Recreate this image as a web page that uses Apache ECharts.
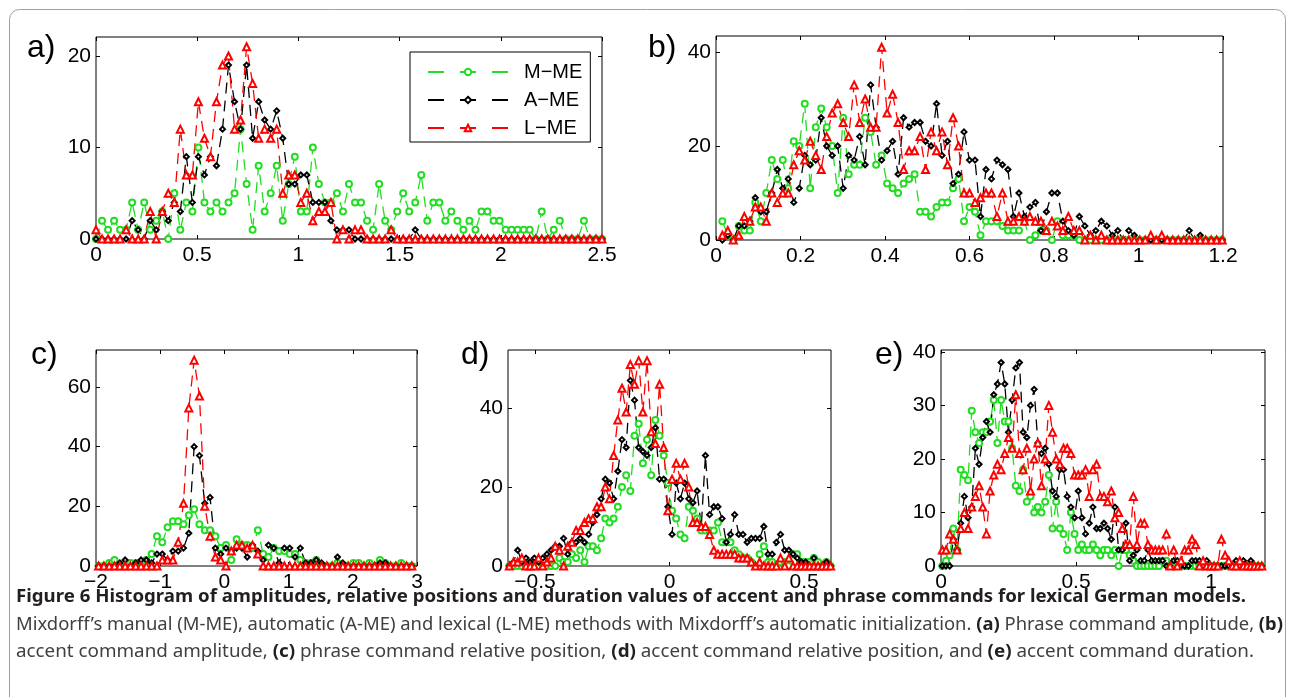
<!DOCTYPE html>
<html>
<head>
<meta charset="utf-8">
<script src="https://cdn.jsdelivr.net/npm/echarts@6/dist/echarts.min.js"></script>
<style>
html,body{margin:0;padding:0;background:#fff;}
#main{width:1293px;height:697px;}
</style>
</head>
<body>
<div id="main"></div>
<script>
// 各子图的直方图计数 (bin centres = start + i*step)
// a) phrase command amplitude
var aStart = 0, aStep = 0.02976;
var aMME = [0,2,1,2,1,1,4,1,4,1, 2,3,0,5,1,4,3,10,4,3, 4,3,4,5,12,6,1,8,3,5, 8,2,6,9,3,3,10,6,4,4,
            5,3,6,4,4,2,1,6,2,1, 3,5,3,4,7,2,4,4,2,3, 2,1,2,1,3,3,2,2,1,1, 1,1,1,0,3,0,1,2,0,0, 0,2,0,0,0];
var aAME = [0,0,0,0,0,0,2,1,0,2, 1,3,2,4,3,9,4,9,7,9, 8,12,19,15,12,19,11,15,13,12, 14,11,6,6,7,7,4,4,4,2,
            1,1,1,0,0,0,0,0,0,0, 0,0,0,1,0,0,0,0,0,0, 0,0,0,0,0,0,0,0,0,0, 0,0,0,0,0,0,0,0,0,0, 0,0,0,0,0];
var aLME = [1,0,0,0,0,1,0,0,0,3, 0,3,5,4,12,7,7,15,11,9, 15,19,20,12,13,21,17,11,12,11, 12,5,7,7,4,5,2,3,3,4,
            0,1,0,1,1,0,0,0,0,1, 0,0,0,0,0,0,0,0,0,0, 0,0,0,0,0,0,0,0,0,0, 0,0,0,0,0,0,0,0,0,0, 0,0,0,0,0];
var aXTicks = [0, 0.5, 1, 1.5, 2, 2.5];
var aYTicks = [0, 10, 20];

// b) accent command amplitude
var bStart = 0.015, bStep = 0.013;
var bMME = [4,1,0,3,2,2,8,4,10,17, 13,17,11,21,20,29,11,24,28,24, 20,10,26,14,16,16,26,23,16,18, 12,11,10,12,13,14,6,6,5,7,
            8,8,11,13,4,7,6,1,4,4, 4,3,2,2,2,4,0,1,2,2, 0,4,1,1,1,0,0,0,0,0, 0,0,0,0,0,0,0,0,0,0, 0,0,0,0,0,0,0,0,0,0, 0,0];
var bAME = [0,1,0,3,3,4,9,6,6,10, 15,11,13,8,11,18,16,17,26,20, 18,20,11,18,17,22,16,33,24,17, 19,21,14,26,24,25,25,21,20,29,
            18,21,12,14,23,17,17,5,15,13, 17,16,15,5,10,5,7,8,2,6, 10,10,4,2,1,5,3,1,2,4, 3,1,2,0,2,1,0,0,0,0, 0,0,0,0,0,2,0,1,0,0, 0,0];
var bLME = [1,2,0,1,5,4,7,7,4,10, 8,10,10,16,19,17,21,18,15,22, 27,29,25,22,33,25,30,24,24,41, 27,31,25,15,19,19,22,15,23,19,
            23,16,26,20,10,10,8,9,10,10, 5,10,4,4,5,4,5,4,4,2, 4,3,2,5,2,2,0,1,0,1, 0,0,0,0,0,0,0,0,1,0, 1,0,0,0,0,0,0,0,0,0, 0,0];
var bXTicks = [0, 0.2, 0.4, 0.6, 0.8, 1, 1.2];
var bYTicks = [0, 20, 40];

// c) phrase command relative position
var cStart = -1.96, cStep = 0.0827;
var cMME = [0,0,1,2,0,1,1,1,0,2, 4,10,8,13,15,15,14,17,19,14, 12,12,10,6,7,2,9,7,7,6, 12,4,3,6,5,5,4,4,2,1,
            1,2,0,0,0,1,0,0,1,1, 0,1,0,2,1,0,0,1,0,0, 1];
var cAME = [0,0,0,0,1,2,0,1,2,2, 1,4,4,2,5,5,6,11,40,37, 21,23,6,4,6,5,6,6,3,7, 5,2,7,6,1,6,6,3,6,1,
            1,2,1,0,0,3,1,0,0,0, 0,0,0,1,1,0,0,0,0,0, 0];
var cLME = [0,0,0,0,0,0,0,0,0,0, 0,0,2,2,2,8,21,53,69,57, 20,10,3,2,0,5,7,7,6,7, 4,0,0,0,0,0,0,0,0,0,
            0,0,0,0,0,0,0,0,0,0, 0,0,0,0,0,0,0,0,0,0, 0];
var cXTicks = [-2, -1, 0, 1, 2, 3];
var cYTicks = [0, 20, 40, 60];

// d) accent command relative position
var dStart = -0.595, dStep = 0.0155;
var dMME = [0,0,0,0,0,0,1,0,0,0, 0,0,2,1,1,3,2,4,1,5, 5,4,7,12,11,12,15,20,23,19, 33,36,26,32,23,37,33,28,21,14,
            12,8,7,15,14,12,9,9,9,9, 11,6,6,6,4,3,2,2,1,0, 3,5,1,1,0,1,1,0,3,3, 1,1,1,2,1,0,1,0];
var dAME = [0,1,4,1,2,1,2,1,2,3, 4,5,5,7,3,6,6,7,6,8, 11,13,17,22,21,17,24,32,30,47, 42,30,29,28,30,35,22,22,15,8,
            21,17,21,17,16,19,10,28,13,15, 15,12,6,8,13,8,8,6,7,7, 7,10,3,3,6,8,4,4,3,2, 1,1,0,2,0,0,1,0];
var dLME = [0,1,1,2,0,0,0,2,0,1, 2,5,4,0,5,6,9,9,11,12, 12,15,15,20,17,28,37,45,39,51, 46,52,39,52,34,31,46,30,14,22,
            26,22,26,20,11,11,10,10,8,4, 3,3,3,3,3,2,2,2,1,0, 1,0,0,0,0,2,0,2,0,0, 0,0,0,0,0,0,0,0];
var dXTicks = [-0.5, 0, 0.5];
var dYTicks = [0, 20, 40];

// e) accent command duration
var eStart = 0.005, eStep = 0.0136;
var eMME = [0,1,2,7,3,18,17,16,29,25, 23,25,25,27,31,23,31,27,27,22, 15,14,18,12,13,10,11,10,12,17, 7,12,7,6,3,10,6,3,4,3,
            3,4,3,2,3,3,2,3,0,3, 3,2,1,0,0,0,0,0,0,0, 1,1,0,0,0,0,0,0,0,0, 0,0,0,0,0,0,0,0,0,0, 0,0,0,0,0,0,0,0];
var eAME = [0,0,0,5,3,8,13,9,11,22, 19,24,27,25,32,34,38,34,25,31, 37,38,25,24,30,33,23,21,22,19, 14,13,18,18,13,11,9,14,9,6,
            8,11,7,7,8,7,5,11,3,3, 8,1,2,3,1,1,3,1,1,1, 1,0,0,1,1,0,0,0,1,1, 1,0,1,0,0,0,0,0,0,0, 1,0,1,0,1,0,0,0];
var eLME = [3,3,6,5,3,7,10,7,11,13, 15,11,6,14,17,19,18,21,24,22, 32,21,18,22,14,20,23,15,20,30, 25,20,19,22,22,21,17,17,17,18,
            13,18,19,13,13,12,14,9,10,7, 4,4,13,4,8,8,4,3,3,3, 3,6,0,3,0,1,3,3,5,4, 0,1,0,0,0,0,5,2,1,0, 0,1,0,0,0,0,0,0];
var eXTicks = [0, 0.5, 1];
var eYTicks = [0, 10, 20, 30, 40];

var seriesNames = ['M−ME', 'A−ME', 'L−ME'];

// caption text
var capLine1 = [['b', 'Figure 6 Histogram of amplitudes, relative positions and duration values of accent and phrase commands for lexical German models.']];
var capLine2 = [['r', 'Mixdorff’s manual (M-ME), automatic (A-ME) and lexical (L-ME) methods with Mixdorff’s automatic initialization. '],
                ['b', '(a)'], ['r', ' Phrase command amplitude, '], ['b', '(b)']];
var capLine3 = [['r', 'accent command amplitude, '], ['b', '(c)'], ['r', ' phrase command relative position, '],
                ['b', '(d)'], ['r', ' accent command relative position, and '], ['b', '(e)'], ['r', ' accent command duration.']];

//样式
var colors = ['#22dd22', '#000000', '#ff0000'];
var symbols = ['emptyCircle', 'emptyDiamond', 'emptyTriangle'];
var symSizes = [6, 5, 7];
var axisFont = '"Liberation Sans", Arial, Helvetica, sans-serif';
var capFont = '"Noto Sans", "Open Sans", sans-serif';

var panels = [
    {label: 'a)', lx: 27, ly: 48, grid: {left: 96, top: 37, width: 506, height: 202},
     xmin: 0, xmax: 2.5, ymax: 22.07, start: aStart, step: aStep, ys: [aMME, aAME, aLME], xt: aXTicks, yt: aYTicks},
    {label: 'b)', lx: 648, ly: 48, grid: {left: 716, top: 36, width: 507, height: 204},
     xmin: 0, xmax: 1.2, ymax: 43.4, start: bStart, step: bStep, ys: [bMME, bAME, bLME], xt: bXTicks, yt: bYTicks},
    {label: 'c)', lx: 31, ly: 355, grid: {left: 96, top: 350, width: 321, height: 216},
     xmin: -2, xmax: 3, ymax: 72.4, start: cStart, step: cStep, ys: [cMME, cAME, cLME], xt: cXTicks, yt: cYTicks},
    {label: 'd)', lx: 461, ly: 355, grid: {left: 508, top: 350, width: 323, height: 216},
     xmin: -0.6, xmax: 0.6, ymax: 54.7, start: dStart, step: dStep, ys: [dMME, dAME, dLME], xt: dXTicks, yt: dYTicks},
    {label: 'e)', lx: 875, ly: 355, grid: {left: 941, top: 350, width: 324, height: 216},
     xmin: 0, xmax: 1.2, ymax: 40.35, start: eStart, step: eStep, ys: [eMME, eAME, eLME], xt: eXTicks, yt: eYTicks}
];

function fmt(v) {
    return String(v).replace('-', '−');
}

function axis(dim, gi, min, max, ticks, mirror) {
    return {
        type: 'value', gridIndex: gi, min: min, max: max,
        position: dim === 'x' ? (mirror ? 'top' : 'bottom') : (mirror ? 'right' : 'left'),
        axisLine: {show: false, onZero: false},
        splitLine: {show: false},
        axisTick: {show: true, inside: true, length: 4, customValues: ticks, lineStyle: {color: '#000', width: 1}},
        axisLabel: {show: !mirror, customValues: ticks, formatter: fmt, margin: dim === 'x' ? 6 : 5,
            color: '#000', fontSize: 21, fontFamily: axisFont}
    };
}

var grids = [], xAxes = [], yAxes = [], series = [], graphics = [];

panels.forEach(function (p, gi) {
    grids.push(Object.assign({show: true, borderColor: '#000', borderWidth: 1, backgroundColor: '#fff'}, p.grid));
    xAxes.push(axis('x', gi, p.xmin, p.xmax, p.xt, false));
    xAxes.push(axis('x', gi, p.xmin, p.xmax, p.xt, true));
    yAxes.push(axis('y', gi, 0, p.ymax, p.yt, false));
    yAxes.push(axis('y', gi, 0, p.ymax, p.yt, true));
    p.ys.forEach(function (ys, k) {
        series.push({
            name: seriesNames[k], type: 'line', xAxisIndex: gi * 2, yAxisIndex: gi * 2,
            data: ys.map(function (v, i) { return [+(p.start + i * p.step).toFixed(4), v]; }),
            symbol: symbols[k], symbolSize: symSizes[k], showAllSymbol: true,
            lineStyle: {color: colors[k], width: 1.3, type: [11, 7]},
            itemStyle: {color: colors[k], borderColor: colors[k], borderWidth: 1},
            emphasis: {disabled: true}, silent: true
        });
    });
    graphics.push({type: 'text', x: p.lx, y: p.ly,
        style: {text: p.label, fontSize: 32, fontFamily: axisFont, fill: '#000', verticalAlign: 'middle'}});
});

// 标题文字：按参考宽度横向缩放
var mctx = document.createElement('canvas').getContext('2d');
function capText(segs, x, y, targetW) {
    var w = 0;
    segs.forEach(function (s) {
        mctx.font = (s[0] === 'b' ? 'bold ' : 'normal ') + '18px ' + capFont;
        w += mctx.measureText(s[1]).width;
    });
    return {
        type: 'text', x: x, y: y, scaleX: targetW / w, originX: 0,
        style: {
            text: segs.map(function (s) { return '{' + s[0] + '|' + s[1] + '}'; }).join(''),
            verticalAlign: 'middle',
            rich: {
                b: {fontWeight: 'bold', fontSize: 18, fontFamily: capFont, fill: '#231f20'},
                r: {fontWeight: 'normal', fontSize: 18, fontFamily: capFont, fill: '#404040'}
            }
        }
    };
}
graphics.push(capText(capLine1, 16, 597, 1230));
graphics.push(capText(capLine2, 16, 625, 1267));
graphics.push(capText(capLine3, 16, 652, 1238));
graphics.push({type: 'rect', z: -1, shape: {x: 9.5, y: 9.5, width: 1276, height: 720, r: 10},
    style: {fill: 'none', stroke: '#a0a0a0', lineWidth: 1}});

var myChart = echarts.init(document.getElementById('main'));
myChart.setOption({
    animation: false,
    backgroundColor: '#fff',
    grid: grids,
    xAxis: xAxes,
    yAxis: yAxes,
    legend: {
        data: seriesNames, orient: 'vertical', left: 410, top: 52,
        itemWidth: 80, itemHeight: 8, itemGap: 8, padding: [10, 8, 4, 17],
        borderColor: '#000', borderWidth: 1, backgroundColor: '#fff',
        selectedMode: false,
        lineStyle: {type: [16, 16]},
        textStyle: {fontSize: 20, fontFamily: axisFont, color: '#000', padding: [0, 0, 0, 11]}
    },
    graphic: graphics,
    series: series
});
</script>
</body>
</html>
